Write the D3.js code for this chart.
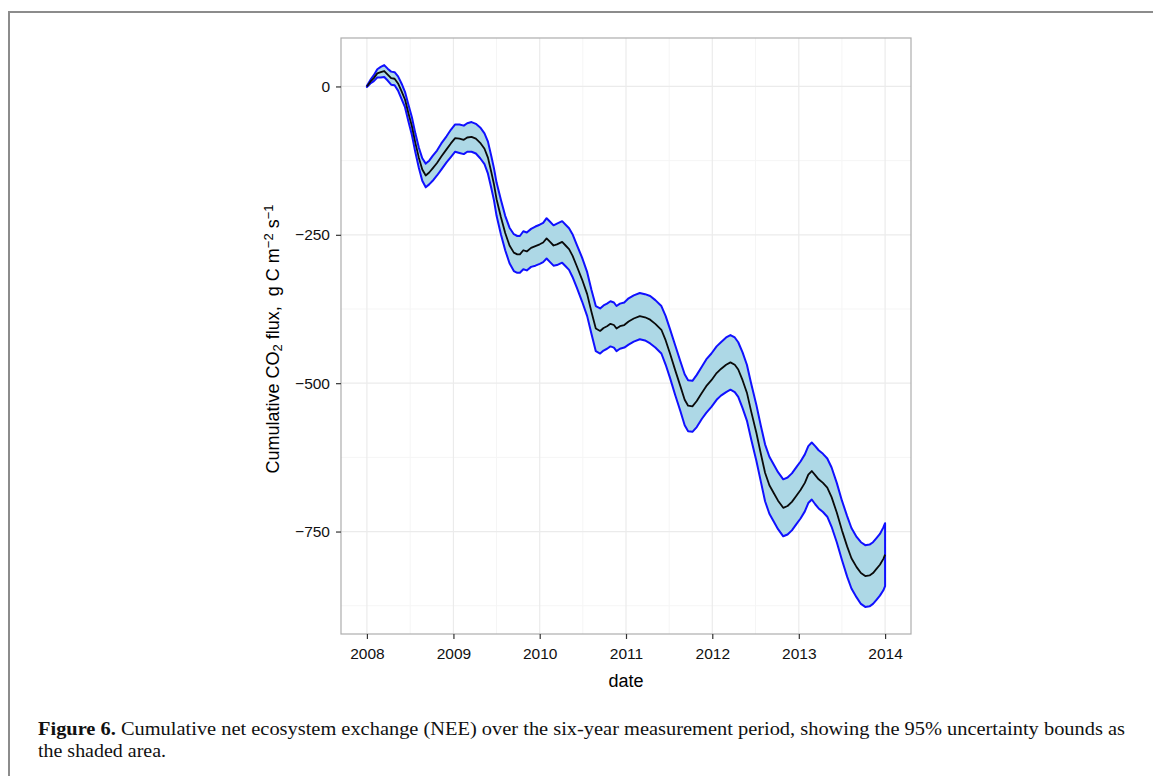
<!DOCTYPE html>
<html>
<head>
<meta charset="utf-8">
<script src="https://cdn.jsdelivr.net/npm/d3@7"></script>
<style>
  html, body { margin: 0; padding: 0; background: #fff; }
  svg { display: block; }
</style>
</head>
<body>
<svg id="chart" width="1153" height="776"></svg>
<script>
// ---------------- data ----------------
// time in decimal years
const decimalYears = [
  2008.00, 2008.04, 2008.08, 2008.12, 2008.16, 2008.20, 2008.24, 2008.28, 2008.32, 2008.36,
  2008.40, 2008.44, 2008.48, 2008.52, 2008.56, 2008.60, 2008.64, 2008.68, 2008.72, 2008.76,
  2008.81, 2008.86, 2008.92, 2008.97, 2009.02, 2009.07, 2009.12, 2009.16, 2009.21, 2009.26,
  2009.31, 2009.36, 2009.40, 2009.44, 2009.47, 2009.50, 2009.55, 2009.60, 2009.65, 2009.70,
  2009.74, 2009.77, 2009.81, 2009.85, 2009.90, 2009.95, 2010.00, 2010.04, 2010.08, 2010.12,
  2010.16, 2010.20, 2010.26, 2010.30, 2010.34, 2010.38, 2010.43, 2010.49, 2010.55, 2010.60,
  2010.65, 2010.70, 2010.74, 2010.78, 2010.82, 2010.86, 2010.89, 2010.93, 2010.98, 2011.03,
  2011.09, 2011.16, 2011.22, 2011.28, 2011.34, 2011.41, 2011.46, 2011.51, 2011.57, 2011.63,
  2011.68, 2011.72, 2011.77, 2011.82, 2011.88, 2011.93, 2011.99, 2012.05, 2012.10, 2012.16,
  2012.21, 2012.26, 2012.30, 2012.35, 2012.40, 2012.45, 2012.51, 2012.56, 2012.61, 2012.66,
  2012.71, 2012.76, 2012.82, 2012.87, 2012.92, 2012.97, 2013.02, 2013.07, 2013.11, 2013.15,
  2013.19, 2013.23, 2013.28, 2013.33, 2013.38, 2013.44, 2013.50, 2013.56, 2013.61, 2013.67,
  2013.72, 2013.77, 2013.82, 2013.86, 2013.90, 2013.94, 2013.98, 2014.00
];

// cumulative NEE (central estimate)
const meanFlux = [
  0, 8, 14, 22, 24, 26, 20, 14, 13, 5,
  -8, -22, -45, -67, -95, -120, -140, -150, -145, -138,
  -129, -118, -106, -96, -87, -88, -90, -86, -85, -88,
  -95, -105, -120, -145, -165, -190, -220, -247, -268, -280,
  -283, -283, -276, -278, -272, -269, -266, -263, -256, -262,
  -268, -266, -262, -268, -274, -285, -303, -325, -350, -380,
  -408, -412, -407, -404, -400, -402, -408, -404, -402, -396,
  -391, -387, -389, -393, -400, -410, -428, -450, -478, -505,
  -528, -538, -539, -530, -516, -505, -495, -483, -476, -469,
  -465, -469, -477, -495, -516, -548, -584, -618, -651, -672,
  -685, -698, -710, -707, -700, -690, -680, -668, -654, -648,
  -655, -662, -668, -676, -692, -718, -748, -775, -795, -810,
  -820, -825, -824, -820, -813, -806, -796, -789
];

// upper 95% bound
const upperBound = [
  1, 11, 19, 29, 33, 36, 30, 25, 24, 17,
  5, -9, -31, -52, -79, -103, -121, -130, -125, -117,
  -108, -96, -84, -73, -64, -64, -66, -62, -60, -63,
  -69, -79, -93, -118, -138, -162, -191, -218, -238, -249,
  -252, -252, -244, -246, -240, -236, -233, -230, -222, -228,
  -234, -231, -227, -233, -239, -249, -267, -288, -313, -343,
  -370, -374, -369, -366, -362, -364, -370, -366, -364, -357,
  -352, -348, -350, -353, -360, -370, -387, -409, -436, -463,
  -485, -495, -496, -486, -472, -460, -450, -438, -431, -423,
  -419, -423, -431, -448, -469, -501, -537, -571, -603, -624,
  -637, -650, -662, -659, -652, -642, -632, -620, -606, -600,
  -606, -613, -619, -627, -642, -668, -698, -724, -744, -759,
  -768, -773, -772, -768, -761, -754, -743, -736
];

// lower 95% bound
const lowerBound = [
  -1, 5, 9, 15, 15, 16, 10, 3, 2, -7,
  -21, -35, -59, -82, -111, -137, -159, -170, -165, -159,
  -150, -140, -128, -119, -110, -112, -114, -110, -110, -113,
  -121, -131, -147, -172, -192, -218, -249, -276, -298, -311,
  -314, -314, -308, -310, -304, -302, -299, -296, -290, -296,
  -302, -301, -297, -303, -309, -321, -339, -362, -387, -417,
  -446, -450, -445, -442, -438, -440, -446, -442, -440, -435,
  -430, -426, -428, -433, -440, -450, -469, -491, -520, -547,
  -571, -581, -582, -574, -560, -550, -540, -528, -521, -515,
  -511, -515, -523, -542, -563, -595, -631, -665, -699, -720,
  -733, -746, -758, -755, -748, -738, -728, -716, -702, -696,
  -704, -711, -717, -725, -742, -768, -798, -826, -846, -861,
  -872, -877, -876, -872, -865, -858, -849, -842
];

const xTickYears = [2008, 2009, 2010, 2011, 2012, 2013, 2014];
const xTickLabels = ["2008", "2009", "2010", "2011", "2012", "2013", "2014"];
const yTicks = [0, -250, -500, -750];
const yTickLabels = ["0", "\u2212250", "\u2212500", "\u2212750"];
const yMinorTicks = [-125, -375, -625, -875];
const xMinorYears = [2008.5, 2009.5, 2010.5, 2011.5, 2012.5, 2013.5];

const xTitle = "date";
const captionBold = "Figure 6.";
const captionLine1 = " Cumulative net ecosystem exchange (NEE) over the six-year measurement period, showing the 95% uncertainty bounds as";
const captionLine2 = "the shaded area.";

// ---------------- helpers ----------------
function toDate(t) {
  const y = Math.floor(t);
  const s = Date.UTC(y, 0, 1), e = Date.UTC(y + 1, 0, 1);
  return new Date(s + (t - y) * (e - s));
}

const rows = decimalYears.map((t, i) => ({
  date: toDate(t), mean: meanFlux[i], hi: upperBound[i], lo: lowerBound[i]
}));

// ---------------- layout ----------------
const panel = { left: 341, right: 911, top: 38, bottom: 634 };

const svg = d3.select("#chart");

// outer figure frame (top + left rule)
svg.append("line").attr("x1", 8).attr("x2", 1153).attr("y1", 12).attr("y2", 12)
  .attr("stroke", "#8c8c8c").attr("stroke-width", 2);
svg.append("line").attr("x1", 9).attr("x2", 9).attr("y1", 11).attr("y2", 776)
  .attr("stroke", "#8c8c8c").attr("stroke-width", 2);

// scales with 5% expansion like ggplot
const tMin = toDate(2008), tMax = toDate(2014);
const tSpan = tMax - tMin;
const x = d3.scaleUtc()
  .domain([new Date(+tMin - 0.05 * tSpan), new Date(+tMax + 0.05 * tSpan)])
  .range([panel.left, panel.right]);

const yLo = d3.min(lowerBound), yHi = d3.max(upperBound);
const yPad = 0.05 * (yHi - yLo);
const y = d3.scaleLinear()
  .domain([yLo - yPad, yHi + yPad])
  .range([panel.bottom, panel.top]);

// grid
const grid = svg.append("g");
grid.selectAll(".xminor").data(xMinorYears).enter().append("line")
  .attr("x1", d => x(toDate(d))).attr("x2", d => x(toDate(d)))
  .attr("y1", panel.top).attr("y2", panel.bottom)
  .attr("stroke", "#f5f5f5").attr("stroke-width", 1);
grid.selectAll(".yminor").data(yMinorTicks).enter().append("line")
  .attr("x1", panel.left).attr("x2", panel.right)
  .attr("y1", d => y(d)).attr("y2", d => y(d))
  .attr("stroke", "#f5f5f5").attr("stroke-width", 1);
grid.selectAll(".xmajor").data(xTickYears).enter().append("line")
  .attr("x1", d => x(toDate(d))).attr("x2", d => x(toDate(d)))
  .attr("y1", panel.top).attr("y2", panel.bottom)
  .attr("stroke", "#ebebeb").attr("stroke-width", 1.2);
grid.selectAll(".ymajor").data(yTicks).enter().append("line")
  .attr("x1", panel.left).attr("x2", panel.right)
  .attr("y1", d => y(d)).attr("y2", d => y(d))
  .attr("stroke", "#ebebeb").attr("stroke-width", 1.2);

// ribbon (95% bounds)
const area = d3.area()
  .x(d => x(d.date))
  .y0(d => y(d.lo))
  .y1(d => y(d.hi));
svg.append("path").datum(rows)
  .attr("d", area(rows) + "Z")
  .attr("fill", "#add8e6")
  .attr("stroke", "#1010ff")
  .attr("stroke-width", 2)
  .attr("stroke-linejoin", "round");

// central line
const line = d3.line().x(d => x(d.date)).y(d => y(d.mean));
svg.append("path").datum(rows)
  .attr("d", line)
  .attr("fill", "none")
  .attr("stroke", "#0a0a0a")
  .attr("stroke-width", 1.8)
  .attr("stroke-linejoin", "round");

// panel border
svg.append("rect")
  .attr("x", panel.left).attr("y", panel.top)
  .attr("width", panel.right - panel.left).attr("height", panel.bottom - panel.top)
  .attr("fill", "none").attr("stroke", "#adadad").attr("stroke-width", 1.2);

// axes
const xAxis = d3.axisBottom(x)
  .tickValues(xTickYears.map(toDate))
  .tickFormat((d, i) => xTickLabels[i])
  .tickSize(5).tickPadding(6);
const gx = svg.append("g").attr("transform", `translate(0,${panel.bottom})`).call(xAxis);
gx.select(".domain").remove();
gx.selectAll(".tick line").attr("stroke", "#333").attr("stroke-width", 1.2);
gx.selectAll(".tick text").attr("fill", "#111")
  .style("font-family", "'Liberation Sans', Arial, sans-serif").style("font-size", "15.5px")
  .attr("dy", "0.9em");

const yAxis = d3.axisLeft(y)
  .tickValues(yTicks)
  .tickFormat((d, i) => yTickLabels[i])
  .tickSize(5).tickPadding(6);
const gy = svg.append("g").attr("transform", `translate(${panel.left},0)`).call(yAxis);
gy.select(".domain").remove();
gy.selectAll(".tick line").attr("stroke", "#333").attr("stroke-width", 1.2);
gy.selectAll(".tick text").attr("fill", "#111")
  .style("font-family", "'Liberation Sans', Arial, sans-serif").style("font-size", "15.5px");

// axis titles
svg.append("text")
  .attr("x", (panel.left + panel.right) / 2).attr("y", 687)
  .attr("text-anchor", "middle")
  .style("font-family", "'Liberation Sans', Arial, sans-serif").style("font-size", "18px")
  .attr("fill", "#000")
  .text(xTitle);

const yt = svg.append("text")
  .attr("transform", `translate(279,${(panel.top + panel.bottom) / 2 + 3}) rotate(-90)`)
  .attr("text-anchor", "middle")
  .style("font-family", "'Liberation Sans', Arial, sans-serif").style("font-size", "18px")
  .attr("fill", "#000");
yt.append("tspan").text("Cumulative CO");
yt.append("tspan").text("2").attr("baseline-shift", "-25%").style("font-size", "13px");
yt.append("tspan").text(" flux,\u00a0\u00a0g C m");
yt.append("tspan").text("\u22122").attr("baseline-shift", "45%").style("font-size", "13px");
yt.append("tspan").text(" s");
yt.append("tspan").text("\u22121").attr("baseline-shift", "45%").style("font-size", "13px");

// caption
const cap1 = svg.append("text")
  .attr("x", 38).attr("y", 735)
  .style("font-family", "'Liberation Serif', 'DejaVu Serif', serif").style("font-size", "19px")
  .attr("fill", "#111");
cap1.append("tspan").text(captionBold).style("font-weight", "bold");
cap1.append("tspan").text(captionLine1);
cap1.attr("textLength", 1087).attr("lengthAdjust", "spacingAndGlyphs");

svg.append("text")
  .attr("x", 38).attr("y", 757)
  .style("font-family", "'Liberation Serif', 'DejaVu Serif', serif").style("font-size", "19px")
  .attr("fill", "#111")
  .attr("textLength", 128).attr("lengthAdjust", "spacingAndGlyphs")
  .text(captionLine2);
</script>
</body>
</html>
